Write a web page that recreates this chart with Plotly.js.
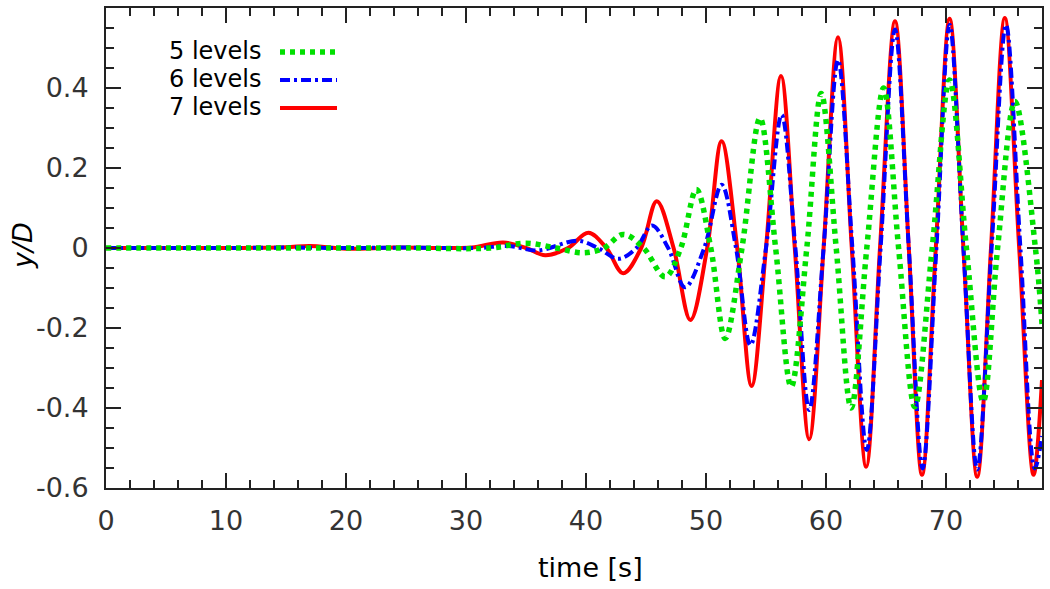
<!DOCTYPE html>
<html>
<head>
<meta charset="utf-8">
<script src="https://cdn.plot.ly/plotly-3.0.1.min.js"></script>
<style>
html,body{margin:0;padding:0;background:#fff;}
#chart{width:1050px;height:589px;}
</style>
</head>
<body>
<div id="chart"></div>
<script>
// ---- data ----
const seriesNames = ["5 levels", "6 levels", "7 levels"];

// 7 levels (red, solid)
const t7 = [0, 5, 10, 15, 17, 20, 24, 28, 30.5, 33.1, 35.0, 36.6, 38.5, 40.2, 41.7, 43.1, 44.6, 45.9, 47.3, 48.7, 50.1, 51.3, 52.6, 53.8, 55.0, 56.25, 57.4, 58.6, 59.8, 61.0, 62.15, 63.35, 64.5, 65.75, 66.9, 68.0, 69.15, 70.3, 71.45, 72.6, 73.75, 74.9, 76.1, 77.3, 78.0];
const y7 = [0, 0, 0, 0.002, 0.005, -0.002, 0.001, 0, 0.001, 0.014, 0, -0.018, 0, 0.038, 0, -0.063, 0, 0.117, 0, -0.18, 0, 0.267, 0, -0.345, 0, 0.43, 0, -0.478, 0, 0.527, 0, -0.547, 0, 0.567, 0, -0.567, 0, 0.573, 0, -0.572, 0, 0.575, 0, -0.567, -0.33];

// 6 levels (blue, dash-dot)
const t6 = [0, 5, 10, 15, 20, 25, 31.0, 33.5, 36.0, 39.3, 41.0, 42.7, 44.2, 45.5, 46.85, 48.25, 49.85, 51.3, 52.5, 53.7, 55.0, 56.3, 57.45, 58.6, 59.8, 61.0, 62.2, 63.4, 64.55, 65.75, 66.9, 68.05, 69.2, 70.3, 71.45, 72.6, 73.8, 75.0, 76.2, 77.4, 78.0];
const y6 = [0, 0, 0, 0.001, 0, 0.001, 0, 0.005, -0.006, 0.018, 0, -0.027, 0, 0.056, 0, -0.098, 0, 0.158, 0, -0.243, 0, 0.333, 0, -0.405, 0, 0.47, 0, -0.505, 0, 0.546, 0, -0.551, 0, 0.558, 0, -0.554, 0, 0.558, 0, -0.551, -0.47];

// 5 levels (green, dotted)
const t5 = [0, 5, 10, 15, 20, 25, 32.0, 35.0, 37.5, 39.8, 41.5, 43.1, 44.8, 46.6, 47.9, 49.2, 50.4, 51.6, 53.0, 54.5, 55.8, 57.1, 58.4, 59.6, 60.85, 62.1, 63.4, 64.8, 66.05, 67.4, 68.85, 70.3, 71.7, 73.1, 74.3, 75.75, 77.45, 78.0];
const y5 = [0, 0, 0, 0, 0, 0, 0, 0.012, 0, -0.012, 0, 0.034, 0, -0.072, 0, 0.146, 0, -0.226, 0, 0.325, 0, -0.347, 0, 0.386, 0, -0.40, 0, 0.40, 0, -0.397, 0, 0.42, 0, -0.384, 0, 0.366, 0, -0.19];

// tick labels
const xTickVals = [0, 10, 20, 30, 40, 50, 60, 70];
const xTickText = ["0", "10", "20", "30", "40", "50", "60", "70"];
const yTickVals = [-0.6, -0.4, -0.2, 0, 0.2, 0.4];
const yTickText = ["-0.6", "-0.4", "-0.2", "0", "0.2", "0.4"];

// ---- styles ----
const colors = {"5 levels": "#00e000", "6 levels": "#0000ff", "7 levels": "#ff0000"};
const dashes = {"5 levels": "5px,5px", "6 levels": "10px,4px,3px,4px", "7 levels": "solid"};
const widths = {"5 levels": 5.5, "6 levels": 4, "7 levels": 4};

const FONT = "DejaVu Sans, sans-serif";
const traces = [
  {x: t7, y: y7, name: seriesNames[2]},
  {x: t6, y: y6, name: seriesNames[1]},
  {x: t5, y: y5, name: seriesNames[0]}
].map(s => ({
  x: s.x, y: s.y, name: s.name, type: "scatter", mode: "lines",
  line: {color: colors[s.name], dash: dashes[s.name], width: widths[s.name], shape: "spline", smoothing: 1.0},
  showlegend: false, hoverinfo: "skip"
}));

const L = 106, R = 8, T = 8, B = 101;
const W = 1050, H = 589;
const pw = W - L - R, ph = H - T - B;
const px = v => (v - L) / pw;
const py = v => (H - B - v) / ph;

const annotations = [];
const shapes = [];
const legendRows = [51, 79, 107];
seriesNames.forEach((n, i) => {
  annotations.push({
    xref: "paper", yref: "paper", x: px(262), y: py(legendRows[i]),
    xanchor: "right", yanchor: "middle", showarrow: false, borderpad: 0,
    text: n, font: {family: FONT, size: 24, color: "#000"}
  });
  shapes.push({
    type: "line", xref: "paper", yref: "paper",
    x0: px(280), x1: px(337), y0: py(legendRows[i] + 1), y1: py(legendRows[i] + 1),
    line: {color: colors[n], dash: dashes[n], width: widths[n]}
  });
});
annotations.push({
  xref: "paper", yref: "paper", x: px(590), y: py(567),
  xanchor: "center", yanchor: "middle", showarrow: false,
  text: "time [s]", font: {family: FONT, size: 27, color: "#000"}
});
annotations.push({
  xref: "paper", yref: "paper", x: px(22), y: py(246),
  xanchor: "center", yanchor: "middle", showarrow: false, textangle: -90,
  text: "<i>y/D</i>", font: {family: FONT, size: 27, color: "#000"}
});

const axisCommon = {
  showgrid: false, zeroline: false, showline: true, linecolor: "#222", linewidth: 2,
  mirror: "allticks", ticks: "inside", ticklen: 15, tickwidth: 2, tickcolor: "#222",
  tickfont: {family: FONT, size: 27, color: "#333"}, tickmode: "array"
};

const layout = {
  width: W, height: H,
  margin: {l: L, r: R, t: T, b: B},
  paper_bgcolor: "#fff", plot_bgcolor: "#fff",
  xaxis: Object.assign({}, axisCommon, {
    range: [0, 78], tickvals: xTickVals, ticktext: xTickText, ticklabelstandoff: 8,
    minor: {dtick: 2, tick0: 0, ticks: "inside", ticklen: 8, tickwidth: 2, tickcolor: "#222"}
  }),
  yaxis: Object.assign({}, axisCommon, {
    range: [-0.6, 0.6], tickvals: yTickVals, ticktext: yTickText, ticklabelstandoff: 10,
    minor: {dtick: 0.05, tick0: 0, ticks: "inside", ticklen: 8, tickwidth: 2, tickcolor: "#222"}
  }),
  annotations: annotations,
  shapes: shapes,
  showlegend: false
};

Plotly.newPlot("chart", traces, layout, {displayModeBar: false, staticPlot: true});
</script>
</body>
</html>
